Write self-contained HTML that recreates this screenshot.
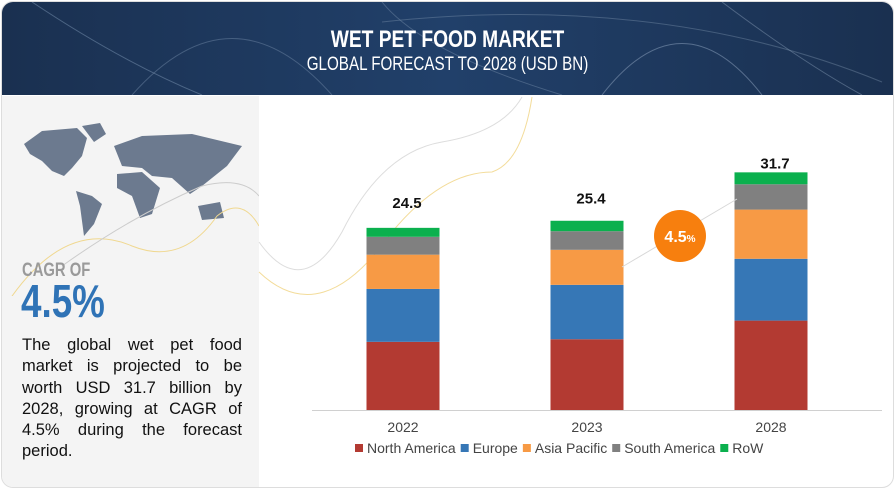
<!DOCTYPE html>
<html><head><meta charset="utf-8"><style>
body{margin:0;width:895px;height:489px;background:#fff;overflow:hidden;font-family:"Liberation Sans",sans-serif}
#card{position:absolute;left:1px;top:1px;width:891px;height:485px;border:1px solid #ddd;border-radius:12px;overflow:hidden;background:#fff}
#hdr{position:absolute;left:0;top:0;width:891px;height:93px;background:linear-gradient(90deg,#1a3050,#21406a 50%,#1a3050)}
.t1{position:absolute;left:0;width:891px;text-align:center;color:#fff}
#left{position:absolute;left:0;top:94px;width:257px;height:391px;background:#f4f4f4}
#para{position:absolute;left:20px;top:333px;width:220px;font-size:16.5px;line-height:21.3px;color:#111}
#para div{text-align:justify;text-align-last:justify;white-space:nowrap}
#para div.last{text-align-last:left}
</style></head><body>
<div id="card">
<div id="hdr">
<svg width="891" height="93" style="position:absolute;left:0;top:0">
<path d="M30 0 Q120 60 200 93" stroke="#6d86a3" stroke-width="1" fill="none" opacity=".6"/>
<path d="M130 93 Q230 -20 330 93" stroke="#6d86a3" stroke-width="1" fill="none" opacity=".5"/>
<path d="M380 0 Q420 50 560 93" stroke="#6d86a3" stroke-width="1" fill="none" opacity=".5"/>
<path d="M600 93 Q680 -10 760 93" stroke="#7f95b0" stroke-width="1" fill="none" opacity=".6"/>
<path d="M380 20 Q660 -10 880 80" stroke="#7f95b0" stroke-width="1" fill="none" opacity=".4"/>
<path d="M720 0 Q800 60 860 93" stroke="#7f95b0" stroke-width="1" fill="none" opacity=".5"/>
</svg>
<div class="t1" style="top:24px;font-size:24px;font-weight:bold;transform:scaleX(.8)">WET PET FOOD MARKET</div>
<div class="t1" style="top:52px;font-size:19px;transform:scaleX(.8)">GLOBAL FORECAST TO 2028 (USD BN)</div>
</div>
<div id="left">
<svg width="257" height="200" style="position:absolute;left:0;top:0">
<g fill="#6c7a8f">
<path d="M22 48 L40 35 L75 32 L85 42 L80 60 L70 72 L62 80 L50 75 L40 65 L28 58Z"/>
<path d="M80 30 L98 27 L104 38 L92 46Z"/>
<path d="M74 95 L90 100 L100 108 L92 128 L82 140 L78 110Z"/>
<path d="M112 50 L140 40 L190 38 L240 50 L225 70 L200 90 L188 98 L170 82 L150 80 L140 72 L120 70Z"/>
<path d="M115 78 L140 76 L158 92 L150 118 L138 122 L130 100 L115 92Z"/>
<path d="M196 110 L218 106 L222 122 L200 124Z"/>
</g>
<path d="M0 215 Q60 120 130 150 Q180 170 215 120 Q240 100 257 130" stroke="#f0d890" fill="none"/>
<path d="M60 170 Q130 120 200 90 Q240 80 257 100" stroke="#cccccc" fill="none"/>
</svg>
<div style="position:absolute;left:20px;top:164px;font-size:19px;font-weight:bold;color:#9a9a9a;transform:scaleX(.78);transform-origin:left">CAGR OF</div>
<div style="position:absolute;left:19px;top:178px;font-size:46px;font-weight:bold;color:#2f73b6;transform:scaleX(.8);transform-origin:left">4.5%</div>
</div>
<div id="para">
<div>The global wet pet food</div>
<div>market is projected to be</div>
<div>worth USD 31.7 billion by</div>
<div>2028, growing at CAGR of</div>
<div>4.5% during the forecast</div>
<div class="last">period.</div>
</div>
<svg id="chart" width="891" height="485" style="position:absolute;left:0;top:0"></svg>
</div>
<script>
const categories=["2022","2023","2028"];
const totals=["24.5","25.4","31.7"];
const seriesNames=["North America","Europe","Asia Pacific","South America","RoW"];
const northAmerica=[9.15,9.5,12.0];
const europe=[7.1,7.3,8.3];
const asiaPacific=[4.6,4.7,6.6];
const southAmerica=[2.4,2.5,3.4];
const row=[1.2,1.4,1.6];
const series=[northAmerica,europe,asiaPacific,southAmerica,row];
const colors=["#b33a32","#3677b6","#f79a45","#808080","#0bb04e"];
const svg=document.getElementById('chart');
const NS="http://www.w3.org/2000/svg";
const base=408, pxPer=7.45, bw=73;
const xc=i=>401+i*184;
const y=v=>base-v*pxPer;
function mk(t,a){const e=document.createElementNS(NS,t);for(const k in a)e.setAttribute(k,a[k]);svg.appendChild(e);return e;}
const c1=mk('path',{d:"M257 240 Q300 300 340 230 Q380 150 440 140 Q500 130 520 95",stroke:"#dddddd",fill:"none"});


const c2=mk('path',{d:"M257 270 Q320 330 390 230 Q440 170 490 170 Q520 160 530 95",stroke:"#f3dc9a",fill:"none"});


const ax=mk('line',{x1:310,x2:880,y1:base+0.5,y2:base+0.5,stroke:"#d0d0d0"});


categories.forEach((c,i)=>{
  let acc=0;
  series.forEach((s,j)=>{
    const r=mk('rect',{x:xc(i)-bw/2,y:y(acc+s[i]),width:bw,height:s[i]*pxPer,fill:colors[j]});
    
    
    acc+=s[i];
  });
  const ty=Math.min(y(acc)-4,y(acc)-(32-acc)*2.6);
  const t=mk('text',{x:xc(i)+4,y:ty,'text-anchor':'middle','font-size':15,'font-weight':'bold',fill:'#111'});
  t.textContent=totals[i];
  
  
  const l=mk('text',{x:xc(i),y:430,'text-anchor':'middle','font-size':14,fill:'#444'});
  l.textContent=c;
  
  
});
const gl=mk('line',{x1:620,y1:265,x2:735,y2:197,stroke:"#d8d8d8"});


const bub=mk('circle',{cx:678,cy:234,r:26,fill:'#f77f0e'});


const bt=mk('text',{x:678,y:240,'text-anchor':'middle','font-size':16,'font-weight':'bold',fill:'#fff'});
bt.innerHTML='4.5<tspan font-size="10">%</tspan>';


let lx=353;
seriesNames.forEach((n,j)=>{
  const r=mk('rect',{x:lx,y:442,width:8,height:8,fill:colors[j]});
  
  
  const t=mk('text',{x:lx+12,y:451,'font-size':14,fill:'#444'});
  t.textContent=n;
  
  
  lx+=12+t.getComputedTextLength()+5;
});
</script>
</body></html>
